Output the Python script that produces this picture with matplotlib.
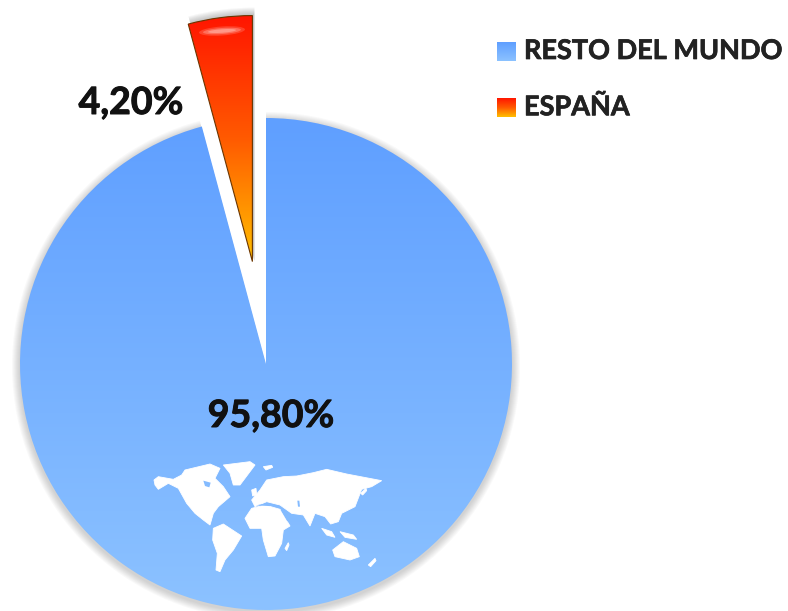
import numpy as np
import matplotlib
matplotlib.use('Agg')
import matplotlib.pyplot as plt
import matplotlib.patheffects as pe
from matplotlib.colors import LinearSegmentedColormap
from matplotlib.patches import Ellipse, Polygon, Rectangle, Wedge

plt.rcParams['font.family'] = ['Lato', 'DejaVu Sans']

categories = ['ESPAÑA', 'RESTO DEL MUNDO']
values = [4.2, 95.8]
value_labels = ['4,20%', '95,80%']
explode = [0.42, 0]

# world map outlines, in pixels of a 3x crop starting at (140, 450)
world_map = [
    [(42, 90), (55, 80), (100, 88), (125, 75), (135, 60), (210, 42), (240, 55), (225, 85), (250, 110),
     (270, 140), (235, 170), (220, 190), (210, 225), (190, 210), (165, 190), (140, 160), (115, 115),
     (85, 100), (55, 118), (45, 105)],
    [(250, 45), (330, 35), (345, 45), (300, 105), (280, 105), (270, 70)],
    [(220, 235), (250, 222), (305, 258), (280, 300), (255, 330), (240, 365), (228, 360), (232, 310), (218, 270)],
    [(315, 205), (335, 175), (375, 165), (420, 178), (450, 228), (430, 240), (425, 280), (405, 318),
     (385, 320), (370, 270), (365, 235), (330, 235)],
    [(335, 150), (360, 120), (380, 90), (430, 80), (470, 78), (520, 68), (560, 58), (620, 72), (725, 92),
     (695, 110), (665, 118), (645, 170), (605, 190), (595, 215), (572, 222), (555, 200), (525, 190),
     (510, 228), (490, 195), (455, 190), (420, 165), (380, 155), (345, 170)],
    [(578, 300), (610, 275), (650, 295), (658, 320), (630, 330), (585, 320)],
    [(435, 295), (445, 278), (447, 285), (440, 302)],
    [(685, 345), (705, 325), (708, 332), (692, 350)],
    [(370, 50), (395, 46), (398, 52), (378, 60)],
    [(545, 235), (575, 245), (585, 262), (560, 255)],
    [(600, 245), (640, 255), (650, 268), (615, 262)],
    [(662, 130), (678, 115), (680, 122), (668, 135)],
    [(335, 120), (348, 115), (350, 135), (338, 138)],
]
# seas and bays cut out of the map
water = [
    [(190, 92), (212, 98), (208, 112), (195, 108)],
    [(348, 166), (380, 160), (415, 168), (385, 168)],
    [(472, 152), (478, 152), (480, 170), (474, 170)],
    [(422, 180), (426, 181), (446, 213), (442, 214)],
]

H = 611
cx, cy, radius = 266, H - 364, 246

fig = plt.figure(figsize=(7.88, 6.11), dpi=100)
ax = fig.add_axes([0, 0, 1, 1])

blues = LinearSegmentedColormap.from_list('blues', ['#5f9fff', '#8cc2ff'])
reds = LinearSegmentedColormap.from_list('reds', ['#ff1500', '#ff5a00', '#ffc000'])
grad = np.linspace(0, 1, 256).reshape(-1, 1)

# pie offsets explode in data units, so scale by the radius
wedges, _ = ax.pie(values, explode=[e * radius for e in explode], startangle=90, radius=radius,
                   center=(cx, cy), frame=True, colors=['none', 'none'])
spain, rest = wedges

# soft shadows
for i in range(8):
    ax.add_patch(Wedge((cx, cy - 2), radius + 8 - i, rest.theta1, rest.theta2, facecolor='#555555',
                       alpha=0.035, linewidth=0, zorder=0.5))
    ax.add_patch(Wedge((spain.center[0] + 2, spain.center[1] + 1), radius + 7 - i, spain.theta1, spain.theta2,
                       facecolor='#555555', alpha=0.05, linewidth=0, zorder=0.5))

im = ax.imshow(grad, cmap=blues, extent=(cx - radius, cx + radius, cy - radius, cy + radius),
               aspect='auto', zorder=1)
im.set_clip_path(rest)
im2 = ax.imshow(grad, cmap=reds, extent=(185, 256, H - 262, H - 15), aspect='auto', zorder=1)
im2.set_clip_path(spain)

spain.set_zorder(2)
spain.set_edgecolor('#6b3500')
spain.set_linewidth(0.8)
rest.set_zorder(0.8)

# highlight on the top of the slice
for w, h, a in [(46, 9, 0.2), (38, 6, 0.3), (28, 3.5, 0.4)]:
    ax.add_patch(Ellipse((222, H - 31), w, h, angle=4, facecolor='#ffd8d0', alpha=a, linewidth=0, zorder=3))

for shape in world_map:
    pts = [(140 + px / 3, H - (450 + py / 3)) for px, py in shape]
    ax.add_patch(Polygon(pts, closed=True, facecolor='white', edgecolor='white', linewidth=0.6, zorder=4))
for shape in water:
    pts = [(140 + px / 3, H - (450 + py / 3)) for px, py in shape]
    ax.add_patch(Polygon(pts, closed=True, facecolor='#84bbff', linewidth=0, zorder=4.5))

stroke = [pe.withStroke(linewidth=0.7, foreground='#111111')]
ax.text(131, H - 103, value_labels[0], fontsize=27, fontweight='bold', color='#111111',
        ha='center', va='center', zorder=5, path_effects=stroke)
ax.text(271, H - 416, value_labels[1], fontsize=27, fontweight='bold', color='#111111',
        ha='center', va='center', zorder=5, path_effects=stroke)

# legend
leg_y = [51, 107]
leg_cmaps = [blues, reds]
for name, y, cmap in zip(categories[::-1], leg_y, leg_cmaps):
    box = Rectangle((497, H - y - 10), 19, 19, facecolor='none', linewidth=0)
    ax.add_patch(box)
    g = ax.imshow(grad, cmap=cmap, extent=(497, 516, H - y - 10, H - y + 9), aspect='auto', zorder=3)
    g.set_clip_path(box)
    ax.text(524, H - y, name, fontsize=19.5, fontweight='bold', color='#222222', ha='left', va='center',
            path_effects=[pe.withStroke(linewidth=0.5, foreground='#222222')])

ax.set_xlim(0, 788)
ax.set_ylim(0, H)
ax.axis('off')

fig.savefig('out.png', dpi=100)
